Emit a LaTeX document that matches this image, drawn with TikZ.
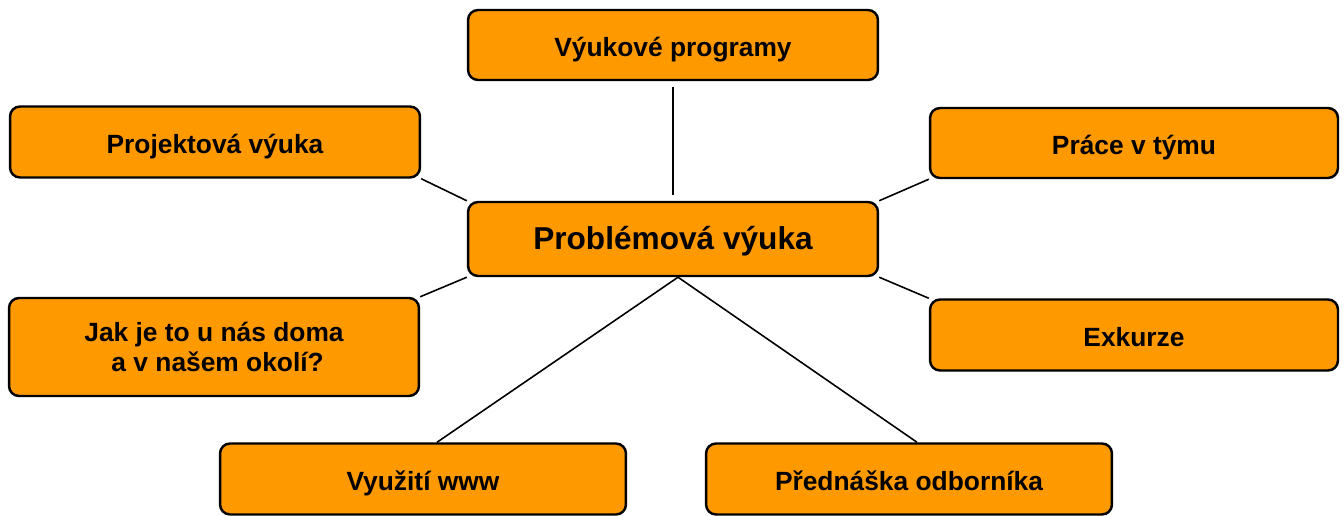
\documentclass[tikz,border=0pt]{standalone}
\usepackage{fontspec}
\setmainfont{Liberation Sans}
\usepackage{tikz}

\begin{document}
\definecolor{boxorange}{RGB}{255,153,0}
\begin{tikzpicture}
[x=0.02cm, y=-0.02cm,
 basebox/.style ={rectangle, draw=black, line width=1.4pt, fill=boxorange, rounded corners=0.2cm,
 minimum width=8.2cm, minimum height=1.42cm, inner sep=0pt, align=center,
 font=\fontsize{15}{17.5}\selectfont\bfseries},
 box/.style ={basebox, text height=13.5pt, text depth=0pt},
 mainbox/.style ={basebox, minimum height=1.48cm, text height=12.5pt, text depth=0pt,
 font=\fontsize{18}{21}\selectfont\bfseries},
 line/.style ={draw, line width=0.9pt}]
\useasboundingbox (0,0) rectangle (1344,516);
\draw (673, 239) node[mainbox] (prob) {Problémová výuka};
\draw (673, 45) node[box, minimum height=1.4cm] (prog) {Výukové programy};
\draw (215, 142) node[box] (proj) {Projektová výuka};
\draw (1134, 143) node[box, minimum width=8.16cm, minimum height=1.4cm] (tym) {Práce v týmu};
\draw (214, 347) node[basebox, minimum height=1.96cm] (doma) {Jak je to u nás doma\\ ~a v našem okolí?};
\draw (1134, 335) node[box, minimum width=8.16cm] (exk) {Exkurze};
\draw (423, 479) node[box, minimum width=8.12cm] (www) {Využití www};
\draw (909, 479) node[box, minimum width=8.12cm] (odb) {Přednáška odborníka};
% spojnice
\draw[line, shorten >=0.12cm, shorten <=0.12cm] (prog) -- (prob);
\draw[line] (proj.south east) -- (prob.north west);
\draw[line] (doma.north east) -- (prob.south west);
\draw[line] (prob.north east) -- (tym.south west);
\draw[line] (prob.south east) -- (exk.north west);
\draw[line] ([xshift=0.1cm]prob.south) -- ([xshift=0.28cm]www.north);
\draw[line] ([xshift=0.1cm]prob.south) -- ([xshift=0.16cm]odb.north);
\end{tikzpicture}
\end{document}
